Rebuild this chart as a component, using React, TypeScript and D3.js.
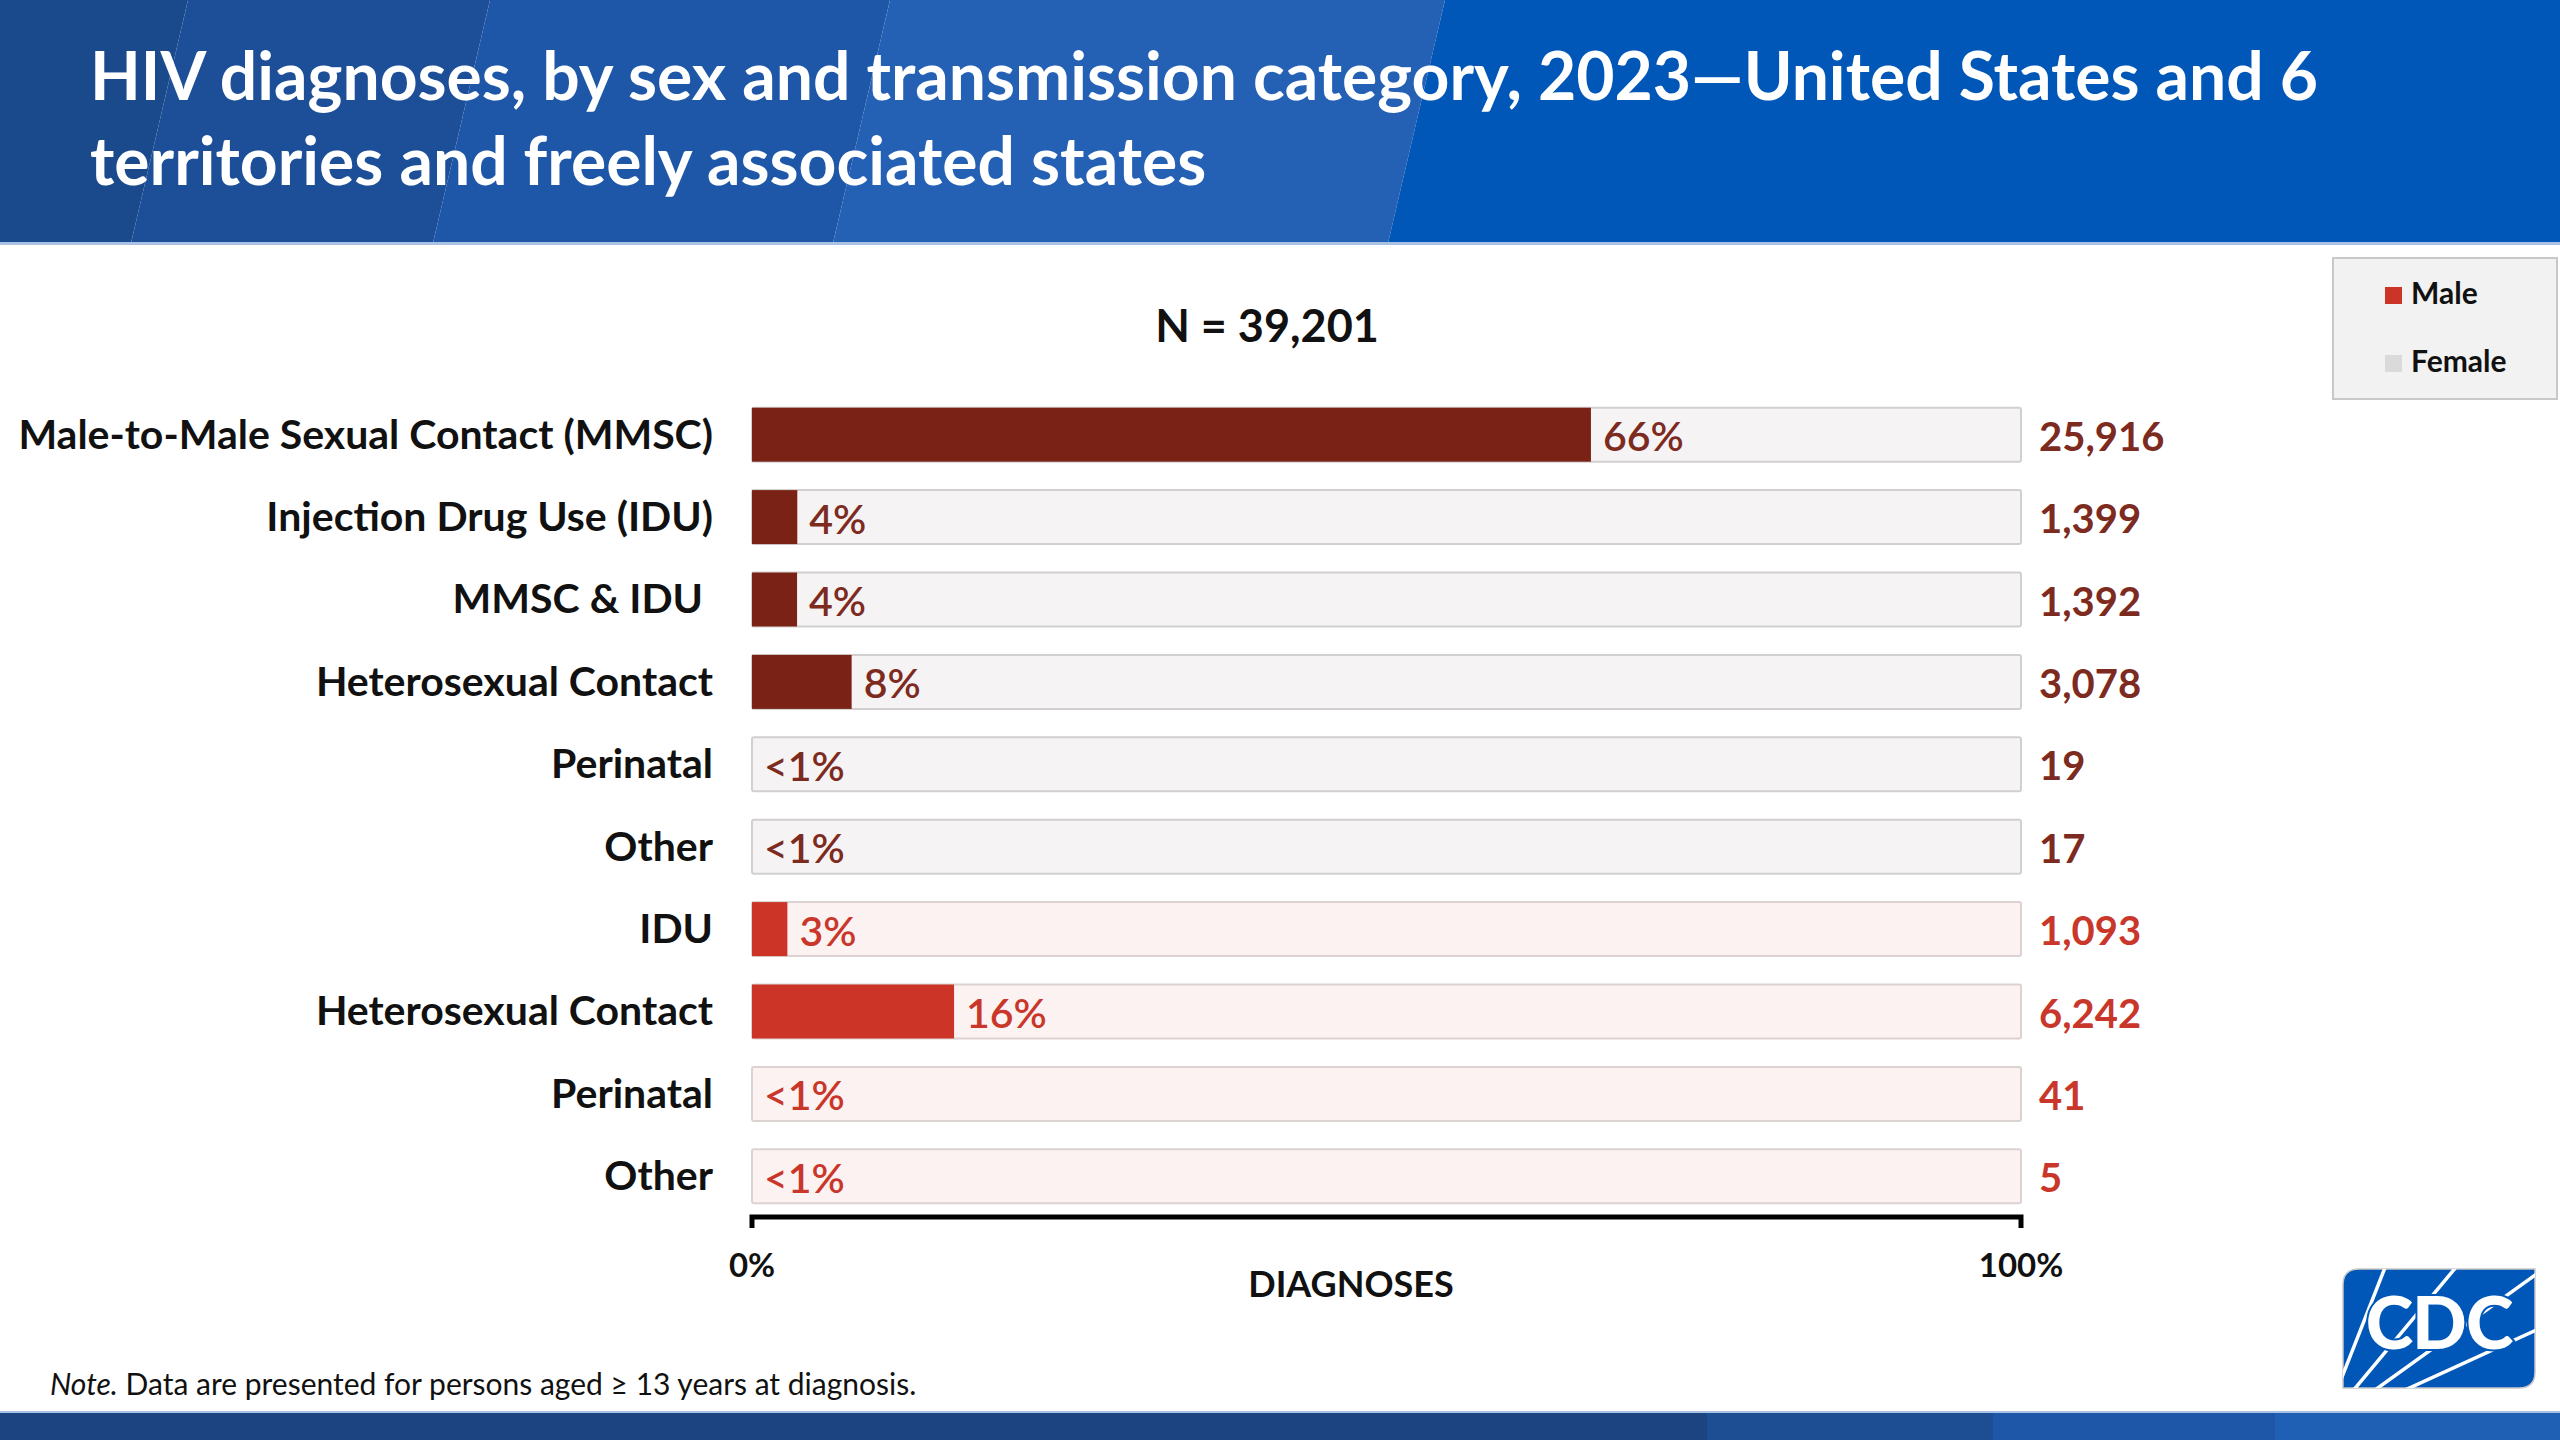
import * as d3 from "d3";

// rows, top to bottom: six male categories, then four female ones
const categories = [
  "Male-to-Male Sexual Contact (MMSC)",
  "Injection Drug Use (IDU)",
  "MMSC & IDU\u00a0",
  "Heterosexual Contact",
  "Perinatal",
  "Other",
  "IDU",
  "Heterosexual Contact",
  "Perinatal",
  "Other",
];
const sexes = ["Male", "Male", "Male", "Male", "Male", "Male", "Female", "Female", "Female", "Female"];
const counts = [25916, 1399, 1392, 3078, 19, 17, 1093, 6242, 41, 5];
const pctLabels = ["66%", "4%", "4%", "8%", "<1%", "<1%", "3%", "16%", "<1%", "<1%"];
const total = 39201;
const axisTicks = [0, 1];
const legendItems = ["Male", "Female"];

const W = 2560;
const H = 1440;
const FONT = "Lato, 'Open Sans', sans-serif";

const colors = {
  Male: { bar: "#7b2216", text: "#7d2a1f", track: "#f5f3f4", stroke: "#d2cfcf" },
  Female: { bar: "#cb3426", text: "#c9372b", track: "#fdf2f2", stroke: "#dcd2d2" },
};

// header stripes: [top x, bottom x] of each band's left edge
const headerBands = [
  { x0: [0, 0], x1: [188, 131], fill: "#1b4a8c" },
  { x0: [188, 131], x1: [490, 433], fill: "#1d4f99" },
  { x0: [490, 433], x1: [890, 833], fill: "#1f57a8" },
  { x0: [890, 833], x1: [1445, 1388], fill: "#2460b4" },
  { x0: [1445, 1388], x1: [W, W], fill: "#0057b8" },
];
const footerBands = [
  { x0: 0, x1: 1707, fill: "#1b4480" },
  { x0: 1707, x1: 1993, fill: "#1d4e94" },
  { x0: 1993, x1: 2275, fill: "#1f57a8" },
  { x0: 2275, x1: W, fill: "#2060b4" },
];

const CdcLogo = () => {
  const x0 = 2343, y0 = 1269, x1 = 2535, y1 = 1388, r = 16;
  const shape = `M${x0 + r},${y0} H${x1} V${y1 - r} Q${x1},${y1} ${x1 - r},${y1} H${x0} V${y0 + r} Q${x0},${y0} ${x0 + r},${y0} Z`;
  const focus: [number, number] = [2322, 1428];
  const rays: [number, number][] = [
    [2388, 1260],
    [2462, 1260],
    [2545, 1268],
    [2545, 1326],
  ];
  return (
    <g>
      <defs>
        <clipPath id="cdcClip">
          <path d={shape} />
        </clipPath>
      </defs>
      <path d={shape} fill="#0057b7" stroke="#c9c9c9" strokeWidth={1.5} />
      <g clipPath="url(#cdcClip)">
        {rays.map((p, i) => (
          <line key={i} x1={focus[0]} y1={focus[1]} x2={p[0]} y2={p[1]} stroke="#fff" strokeWidth={3.5} />
        ))}
      </g>
      <text
        x={(x0 + x1) / 2}
        y={1349}
        textAnchor="middle"
        fontFamily={FONT}
        fontWeight={900}
        fontSize={72}
        fill="#fff"
        stroke="#0057b7"
        strokeWidth={4}
        paintOrder="stroke"
        letterSpacing={-1}
      >
        CDC
      </text>
    </g>
  );
};

export default function App() {
  const rows = d3.range(categories.length);

  const x = d3.scaleLinear().domain([0, 1]).range([752, 2021]);
  const y = d3
    .scaleBand<number>()
    .domain(rows)
    .range([393.5, 1217.5])
    .paddingInner(0.345)
    .paddingOuter(0.1725);

  const axisY = 1217;
  const fmt = d3.format(",");
  const pctFmt = d3.format(".0%");

  return (
    <svg
      width={W}
      height={H}
      viewBox={`0 0 ${W} ${H}`}
      style={{ position: "absolute", left: 0, top: 0, display: "block", background: "#fff" }}
    >
      {/* header */}
      {headerBands.map((b, i) => (
        <polygon
          key={i}
          points={`${b.x0[0]},0 ${b.x1[0]},0 ${b.x1[1]},243 ${b.x0[1]},243`}
          fill={b.fill}
        />
      ))}
      <rect x={0} y={242} width={W} height={3} fill="#a9c1e2" />
      <g fontFamily={FONT} fontWeight={700} fontSize={66} fill="#fff">
        <text x={90} y={100}>
          HIV diagnoses, by sex and transmission category, 2023—United States and 6
        </text>
        <text x={90} y={185}>
          territories and freely associated states
        </text>
      </g>

      {/* legend */}
      <rect x={2333} y={258} width={224} height={141} fill="#f2f2f2" stroke="#c8c8c8" strokeWidth={2} />
      {legendItems.map((d, i) => (
        <g key={d} transform={`translate(2385, ${287 + i * 68})`}>
          <rect width={17} height={17} fill={i === 0 ? colors.Female.bar : "#dadada"} />
          <text x={26} y={17} fontFamily={FONT} fontWeight={700} fontSize={30} fill="#111">
            {d}
          </text>
        </g>
      ))}

      {/* N */}
      <text x={1267} y={342} textAnchor="middle" fontFamily={FONT} fontWeight={700} fontSize={45} fill="#111">
        N = {fmt(total)}
      </text>

      {/* rows */}
      {rows.map((i) => {
        const c = colors[sexes[i] as "Male" | "Female"];
        const top = y(i) ?? 0;
        const bh = y.bandwidth();
        const cy = top + bh / 2;
        const share = counts[i] / total;
        const barEnd = x(share);
        const hasBar = share >= 0.01;
        return (
          <g key={i}>
            <rect
              x={x(0)}
              y={top}
              width={x(1) - x(0)}
              height={bh}
              fill={c.track}
              stroke={c.stroke}
              strokeWidth={2}
              rx={2}
            />
            {hasBar && <rect x={x(0)} y={top} width={barEnd - x(0)} height={bh} fill={c.bar} />}
            <text
              x={713}
              y={cy}
              dy="0.34em"
              textAnchor="end"
              fontFamily={FONT}
              fontWeight={700}
              fontSize={41}
              fill="#111"
            >
              {categories[i]}
            </text>
            <text
              x={hasBar ? barEnd + 12 : x(0) + 12}
              y={cy}
              dy="0.4em"
              fontFamily={FONT}
              fontWeight={600}
              fontSize={41}
              fill={c.text}
            >
              {pctLabels[i]}
            </text>
            <text
              x={x(1) + 18}
              y={cy}
              dy="0.4em"
              fontFamily={FONT}
              fontWeight={700}
              fontSize={40}
              fill={c.text}
            >
              {fmt(counts[i])}
            </text>
          </g>
        );
      })}

      {/* axis */}
      <path
        d={`M${x(0)},${axisY + 11} V${axisY} H${x(1)} V${axisY + 11}`}
        fill="none"
        stroke="#000"
        strokeWidth={5}
      />
      {axisTicks.map((t) => (
        <text
          key={t}
          x={x(t)}
          y={1277}
          textAnchor="middle"
          fontFamily={FONT}
          fontWeight={700}
          fontSize={33}
          fill="#111"
        >
          {pctFmt(t)}
        </text>
      ))}
      <text x={1351} y={1297} textAnchor="middle" fontFamily={FONT} fontWeight={700} fontSize={36} fill="#111">
        DIAGNOSES
      </text>

      {/* note */}
      <text x={50} y={1395} fontFamily={FONT} fontSize={30} fill="#111">
        <tspan fontStyle="italic">Note.</tspan> Data are presented for persons aged ≥ 13 years at diagnosis.
      </text>

      <CdcLogo />

      {/* footer */}
      {footerBands.map((b, i) => (
        <rect key={i} x={b.x0} y={1412} width={b.x1 - b.x0} height={H - 1412} fill={b.fill} />
      ))}
      <rect x={0} y={1411} width={W} height={2} fill="#a9c1e2" />
    </svg>
  );
}
